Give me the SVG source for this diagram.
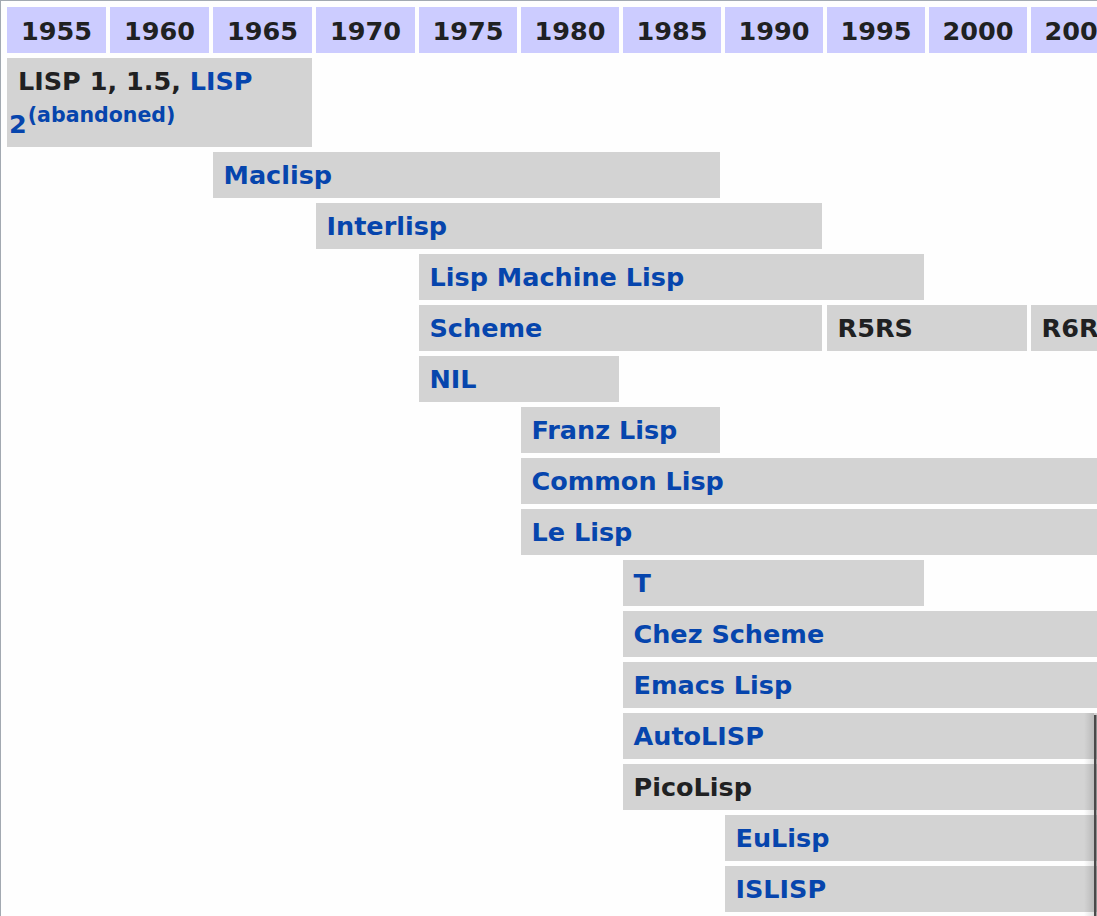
<svg xmlns="http://www.w3.org/2000/svg" width="1097" height="916" viewBox="0 0 1097 916">
<defs>
<style>
.hd{fill:#ccccff}
.cell{fill:#d3d3d3}
.t{font-family:"DejaVu Sans","Verdana",sans-serif;font-weight:bold;font-size:25.5px}
.hdt{text-anchor:middle;fill:#202122}
.blk{fill:#202122}
.lnk{fill:#0645ad}
.sup{font-size:20.5px}
</style>
<linearGradient id="shade" x1="0" y1="0" x2="1" y2="0">
<stop offset="0" stop-color="#000" stop-opacity="0"/>
<stop offset="1" stop-color="#000" stop-opacity="0.12"/>
</linearGradient>
</defs>
<rect x="0" y="0" width="1097" height="916" fill="#fefefe"/>
<rect x="0" y="0" width="1097" height="1" fill="#a2a9b1"/>
<rect x="0" y="0" width="1" height="916" fill="#a2a9b1"/>

<g id="header">
<g id="y1955"><rect class="hd" x="7" y="7" width="99" height="46"/><text class="t hdt" x="56.5" y="40">1955</text></g>
<g id="y1960"><rect class="hd" x="110" y="7" width="99" height="46"/><text class="t hdt" x="159.5" y="40">1960</text></g>
<g id="y1965"><rect class="hd" x="213" y="7" width="99" height="46"/><text class="t hdt" x="262.5" y="40">1965</text></g>
<g id="y1970"><rect class="hd" x="316" y="7" width="99" height="46"/><text class="t hdt" x="365.5" y="40">1970</text></g>
<g id="y1975"><rect class="hd" x="419" y="7" width="98" height="46"/><text class="t hdt" x="468" y="40">1975</text></g>
<g id="y1980"><rect class="hd" x="521" y="7" width="98" height="46"/><text class="t hdt" x="570" y="40">1980</text></g>
<g id="y1985"><rect class="hd" x="623" y="7" width="98" height="46"/><text class="t hdt" x="672" y="40">1985</text></g>
<g id="y1990"><rect class="hd" x="725" y="7" width="98" height="46"/><text class="t hdt" x="774" y="40">1990</text></g>
<g id="y1995"><rect class="hd" x="827" y="7" width="98" height="46"/><text class="t hdt" x="876" y="40">1995</text></g>
<g id="y2000"><rect class="hd" x="929" y="7" width="98" height="46"/><text class="t hdt" x="978" y="40">2000</text></g>
<g id="y2005"><rect class="hd" x="1031" y="7" width="98" height="46"/><text class="t hdt" x="1080" y="40">2005</text></g>
</g>

<g id="lisp15"><rect class="cell" x="7" y="58" width="305" height="89"/>
<text class="t" x="18" y="90"><tspan class="blk">LISP 1, 1.5, </tspan><tspan class="lnk">LISP</tspan></text>
<text class="t lnk" x="9" y="133">2<tspan class="sup" dx="1" dy="-11">(abandoned)</tspan></text></g>
<g id="maclisp"><rect class="cell" x="213" y="152" width="507" height="46"/><text class="t lnk" x="223.5" y="184">Maclisp</text></g>
<g id="interlisp"><rect class="cell" x="316" y="203" width="506" height="46"/><text class="t lnk" x="326.5" y="235">Interlisp</text></g>
<g id="lispmachinelisp"><rect class="cell" x="419" y="254" width="505" height="46"/><text class="t lnk" x="429.5" y="286">Lisp Machine Lisp</text></g>
<g id="scheme"><rect class="cell" x="419" y="305" width="403" height="46"/><text class="t lnk" x="429.5" y="337">Scheme</text></g>
<g id="r5rs"><rect class="cell" x="827" y="305" width="200" height="46"/><text class="t blk" x="837.5" y="337">R5RS</text></g>
<g id="r6rs"><rect class="cell" x="1031" y="305" width="80" height="46"/><text class="t blk" x="1041.5" y="337">R6RS</text></g>
<g id="nil"><rect class="cell" x="419" y="356" width="200" height="46"/><text class="t lnk" x="429.5" y="388">NIL</text></g>
<g id="franzlisp"><rect class="cell" x="521" y="407" width="199" height="46"/><text class="t lnk" x="531.5" y="439">Franz Lisp</text></g>
<g id="commonlisp"><rect class="cell" x="521" y="458" width="590" height="46"/><text class="t lnk" x="531.5" y="490">Common Lisp</text></g>
<g id="lelisp"><rect class="cell" x="521" y="509" width="590" height="46"/><text class="t lnk" x="531.5" y="541">Le Lisp</text></g>
<g id="t"><rect class="cell" x="623" y="560" width="301" height="46"/><text class="t lnk" x="633.5" y="592">T</text></g>
<g id="chezscheme"><rect class="cell" x="623" y="611" width="490" height="46"/><text class="t lnk" x="633.5" y="643">Chez Scheme</text></g>
<g id="emacslisp"><rect class="cell" x="623" y="662" width="490" height="46"/><text class="t lnk" x="633.5" y="694">Emacs Lisp</text></g>
<g id="autolisp"><rect class="cell" x="623" y="713" width="490" height="46"/><text class="t lnk" x="633.5" y="745">AutoLISP</text></g>
<g id="picolisp"><rect class="cell" x="623" y="764" width="490" height="46"/><text class="t blk" x="633.5" y="796">PicoLisp</text></g>
<g id="eulisp"><rect class="cell" x="725" y="815" width="390" height="46"/><text class="t lnk" x="735.5" y="847">EuLisp</text></g>
<g id="islisp"><rect class="cell" x="725" y="866" width="390" height="46"/><text class="t lnk" x="735.5" y="898">ISLISP</text></g>

<g id="connectors"/>

<g id="edge">
<rect x="1084" y="713" width="10" height="203" fill="url(#shade)"/>
<rect x="1094" y="715" width="2.5" height="201" fill="#4a4a4a"/>
</g>
</svg>
